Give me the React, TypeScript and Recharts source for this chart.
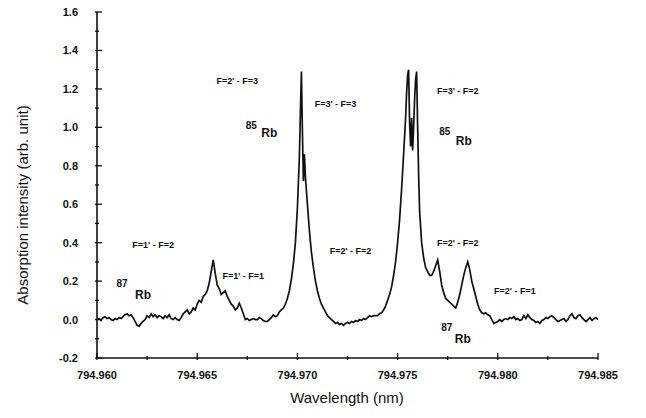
import { LineChart, Line, XAxis, YAxis, ReferenceDot } from 'recharts';

// absorption spectrum: [wavelength (nm), intensity (arb. unit)]
const spectrum: [number, number][] = [
  [794.96, 0.0], [794.9601, 0.005], [794.9602, -0.005], [794.9603, 0.01], [794.9604, 0.015],
  [794.9605, 0.005], [794.9606, 0.01], [794.9607, 0.0], [794.9608, -0.005], [794.9609, 0.005],
  [794.961, 0.0], [794.9611, 0.01], [794.9612, 0.005], [794.9613, 0.015], [794.9614, 0.025],
  [794.9615, 0.03], [794.9616, 0.02], [794.9617, 0.025], [794.9618, 0.01], [794.9619, -0.01],
  [794.962, -0.03], [794.9621, -0.035], [794.9622, -0.02], [794.9623, -0.01], [794.9624, 0.0],
  [794.9625, 0.02], [794.9626, 0.01], [794.9627, 0.03], [794.9628, 0.015], [794.9629, 0.025],
  [794.963, 0.01], [794.9631, 0.02], [794.9632, 0.015], [794.9633, 0.005], [794.9634, 0.02],
  [794.9635, 0.01], [794.9636, 0.025], [794.9637, 0.005], [794.9638, 0.0], [794.9639, 0.01],
  [794.964, 0.0], [794.9641, -0.005], [794.9642, 0.01], [794.9643, 0.03], [794.9644, 0.04],
  [794.9645, 0.05], [794.9646, 0.03], [794.9647, 0.04], [794.9648, 0.06], [794.9649, 0.05],
  [794.965, 0.08], [794.9651, 0.1], [794.9652, 0.09], [794.9653, 0.12], [794.9654, 0.13],
  [794.9655, 0.15], [794.9656, 0.19], [794.9657, 0.25], [794.9658, 0.31], [794.9659, 0.24],
  [794.966, 0.18], [794.9661, 0.16], [794.9662, 0.13], [794.9663, 0.14], [794.9664, 0.15],
  [794.9665, 0.12], [794.9666, 0.1], [794.9667, 0.08], [794.9668, 0.07], [794.9669, 0.05],
  [794.967, 0.06], [794.9671, 0.085], [794.9672, 0.06], [794.9673, 0.03], [794.9674, 0.0],
  [794.9675, 0.005], [794.9676, -0.005], [794.9677, 0.0], [794.9678, 0.005], [794.9679, 0.0],
  [794.968, 0.0], [794.9681, 0.01], [794.9682, 0.005], [794.9683, -0.005], [794.9684, -0.01],
  [794.9685, -0.01], [794.9686, 0.0], [794.9687, 0.01], [794.9688, 0.025], [794.9689, 0.015],
  [794.969, 0.02], [794.9691, 0.04], [794.9692, 0.05], [794.9693, 0.06], [794.9694, 0.08],
  [794.9695, 0.11], [794.9696, 0.15], [794.9697, 0.21], [794.9698, 0.29], [794.9699, 0.4],
  [794.97, 0.58], [794.9701, 0.85], [794.97015, 1.08], [794.9702, 1.29], [794.97025, 0.98],
  [794.9703, 0.72], [794.97035, 0.86], [794.9704, 0.74], [794.9705, 0.6], [794.9706, 0.46],
  [794.9707, 0.35], [794.9708, 0.27], [794.9709, 0.2], [794.971, 0.15], [794.9711, 0.11],
  [794.9712, 0.08], [794.9713, 0.06], [794.9714, 0.04], [794.9715, 0.02], [794.9716, 0.01],
  [794.9717, 0.0], [794.9718, -0.01], [794.9719, -0.02], [794.972, -0.015], [794.9721, -0.025],
  [794.9722, -0.02], [794.9723, -0.03], [794.9724, -0.02], [794.9725, -0.015], [794.9726, -0.02],
  [794.9727, -0.01], [794.9728, -0.015], [794.9729, -0.005], [794.973, -0.01], [794.9731, 0.0],
  [794.9732, -0.005], [794.9733, 0.005], [794.9734, 0.0], [794.9735, 0.01], [794.9736, 0.02],
  [794.9737, 0.015], [794.9738, 0.02], [794.9739, 0.02], [794.974, 0.02], [794.9741, 0.03],
  [794.9742, 0.035], [794.9743, 0.05], [794.9744, 0.07], [794.9745, 0.1], [794.9746, 0.13],
  [794.9747, 0.17], [794.9748, 0.23], [794.9749, 0.3], [794.975, 0.4], [794.9751, 0.52],
  [794.9752, 0.68], [794.9753, 0.86], [794.9754, 1.05], [794.97545, 1.18], [794.9755, 1.27],
  [794.97555, 1.3], [794.9756, 1.02], [794.97565, 0.9], [794.9757, 1.05], [794.97575, 0.88],
  [794.9758, 1.0], [794.97585, 1.15], [794.9759, 1.25], [794.97595, 1.29], [794.976, 1.0],
  [794.97605, 0.75], [794.9761, 0.56], [794.9762, 0.4], [794.9763, 0.32], [794.9764, 0.27],
  [794.9765, 0.25], [794.9766, 0.23], [794.9767, 0.23], [794.9768, 0.25], [794.9769, 0.28],
  [794.977, 0.31], [794.9771, 0.25], [794.9772, 0.18], [794.9773, 0.14], [794.9774, 0.11],
  [794.9775, 0.1], [794.9776, 0.09], [794.9777, 0.08], [794.9778, 0.07], [794.9779, 0.06],
  [794.978, 0.09], [794.9781, 0.13], [794.9782, 0.18], [794.9783, 0.23], [794.9784, 0.27],
  [794.9785, 0.3], [794.9786, 0.26], [794.9787, 0.2], [794.9788, 0.16], [794.9789, 0.12],
  [794.979, 0.08], [794.9791, 0.05], [794.9792, 0.035], [794.9793, 0.03], [794.9794, 0.035],
  [794.9795, 0.025], [794.9796, 0.02], [794.9797, 0.0], [794.9798, -0.02], [794.9799, -0.015],
  [794.98, -0.01], [794.9801, 0.0], [794.9802, -0.01], [794.9803, 0.0], [794.9804, 0.005],
  [794.9805, 0.0], [794.9806, 0.01], [794.9807, 0.005], [794.9808, 0.015], [794.9809, 0.0],
  [794.981, 0.005], [794.9811, -0.005], [794.9812, 0.0], [794.9813, 0.02], [794.9814, 0.005],
  [794.9815, 0.025], [794.9816, 0.01], [794.9817, 0.0], [794.9818, -0.005], [794.9819, -0.015],
  [794.982, -0.01], [794.9821, -0.02], [794.9822, -0.005], [794.9823, 0.0], [794.9824, 0.01],
  [794.9825, 0.005], [794.9826, 0.015], [794.9827, 0.02], [794.9828, 0.01], [794.9829, 0.0],
  [794.983, -0.01], [794.9831, -0.005], [794.9832, 0.0], [794.9833, 0.005], [794.9834, -0.01],
  [794.9835, 0.0], [794.9836, 0.02], [794.9837, 0.03], [794.9838, 0.01], [794.9839, 0.005],
  [794.984, 0.02], [794.9841, 0.025], [794.9842, 0.01], [794.9843, 0.0], [794.9844, -0.01],
  [794.9845, 0.0], [794.9846, 0.01], [794.9847, -0.005], [794.9848, 0.005], [794.9849, 0.01],
  [794.985, 0.0],
];

const xTicks = [794.96, 794.9625, 794.965, 794.9675, 794.97, 794.9725, 794.975, 794.9775, 794.98, 794.9825, 794.985];
const xTickLabels = ['794.960', '', '794.965', '', '794.970', '', '794.975', '', '794.980', '', '794.985'];
const yTicks = [-0.2, -0.1, 0, 0.1, 0.2, 0.3, 0.4, 0.5, 0.6, 0.7, 0.8, 0.9, 1.0, 1.1, 1.2, 1.3, 1.4, 1.5, 1.6];
const yTickLabels = ['-0.2', '', '0.0', '', '0.2', '', '0.4', '', '0.6', '', '0.8', '', '1.0', '', '1.2', '', '1.4', '', '1.6'];

// transition / isotope labels, anchored in data space
const annotations = [
  { text: "F=1' - F=2", wl: 794.9628, v: 0.39, kind: 'line' },
  { text: '87', wl: 794.96125, v: 0.19, kind: 'iso' },
  { text: 'Rb', wl: 794.9623, v: 0.13, kind: 'elem' },
  { text: "F=1' - F=1", wl: 794.9673, v: 0.23, kind: 'line' },
  { text: "F=2' - F=3", wl: 794.967, v: 1.24, kind: 'line' },
  { text: '85', wl: 794.9677, v: 1.01, kind: 'iso' },
  { text: 'Rb', wl: 794.9686, v: 0.97, kind: 'elem' },
  { text: "F=3' - F=3", wl: 794.9719, v: 1.12, kind: 'line' },
  { text: "F=2' - F=2", wl: 794.97265, v: 0.36, kind: 'line' },
  { text: "F=3' - F=2", wl: 794.978, v: 1.19, kind: 'line' },
  { text: '85', wl: 794.97735, v: 0.98, kind: 'iso' },
  { text: 'Rb', wl: 794.9783, v: 0.93, kind: 'elem' },
  { text: "F=2' - F=2", wl: 794.978, v: 0.4, kind: 'line' },
  { text: "F=2' - F=1", wl: 794.98085, v: 0.15, kind: 'line' },
  { text: '87', wl: 794.97745, v: -0.04, kind: 'iso' },
  { text: 'Rb', wl: 794.97825, v: -0.1, kind: 'elem' },
];

const fontSizeFor: Record<string, number> = { line: 9, iso: 10, elem: 12 };

const chartData = spectrum.map(([wl, v]) => ({ wl, v }));

const FONT = '"Liberation Sans", Arial, sans-serif';
const INK = '#111';

// ticks point inward, as in the original Origin-style frame
function BottomTick({ x, y, index }: any) {
  const major = index % 2 === 0;
  return (
    <g>
      <line x1={x} x2={x} y1={y} y2={y - (major ? 7 : 4)} stroke={INK} strokeWidth={1.3} />
      {major && (
        <text x={x} y={y + 19} textAnchor="middle" fontSize={11} fontWeight={700} fill={INK} fontFamily={FONT}>
          {xTickLabels[index]}
        </text>
      )}
    </g>
  );
}

function TopTick({ x, y, index }: any) {
  const major = index % 2 === 0;
  return <line x1={x} x2={x} y1={y} y2={y + (major ? 7 : 4)} stroke={INK} strokeWidth={1.3} />;
}

function LeftTick({ x, y, index }: any) {
  const major = index % 2 === 0;
  return (
    <g>
      <line x1={x} x2={x + (major ? 7 : 4)} y1={y} y2={y} stroke={INK} strokeWidth={1.3} />
      {major && (
        <text x={x - 17} y={y + 4} textAnchor="end" fontSize={11} fontWeight={700} fill={INK} fontFamily={FONT}>
          {yTickLabels[index]}
        </text>
      )}
    </g>
  );
}

function RightTick({ x, y, index }: any) {
  const major = index % 2 === 0;
  return <line x1={x} x2={x - (major ? 7 : 4)} y1={y} y2={y} stroke={INK} strokeWidth={1.3} />;
}

export default function App() {
  return (
    <div style={{ position: 'absolute', left: 0, top: 0, width: 646, height: 418, background: '#fff', fontFamily: FONT }}>
      <LineChart width={646} height={418} data={chartData} margin={{ top: 12, right: 48, bottom: 0, left: 0 }}>
        <XAxis
          dataKey="wl"
          type="number"
          domain={[794.96, 794.985]}
          ticks={xTicks}
          interval={0}
          tickSize={0}
          tickLine={false}
          tick={(p: any) => <BottomTick {...p} />}
          axisLine={{ stroke: INK, strokeWidth: 1.6 }}
          height={60}
          allowDataOverflow
        />
        <XAxis
          xAxisId="top"
          orientation="top"
          dataKey="wl"
          type="number"
          domain={[794.96, 794.985]}
          ticks={xTicks}
          interval={0}
          tickSize={0}
          tickLine={false}
          tick={(p: any) => <TopTick {...p} />}
          axisLine={{ stroke: INK, strokeWidth: 1.6 }}
          height={0}
          allowDataOverflow
        />
        <YAxis
          type="number"
          domain={[-0.2, 1.6]}
          ticks={yTicks}
          interval={0}
          tickSize={0}
          tickLine={false}
          tick={(p: any) => <LeftTick {...p} />}
          axisLine={{ stroke: INK, strokeWidth: 1.6 }}
          width={97}
          allowDataOverflow
        />
        <YAxis
          yAxisId="right"
          orientation="right"
          type="number"
          domain={[-0.2, 1.6]}
          ticks={yTicks}
          interval={0}
          tickSize={0}
          tickLine={false}
          tick={(p: any) => <RightTick {...p} />}
          axisLine={{ stroke: INK, strokeWidth: 1.6 }}
          width={0}
          allowDataOverflow
        />
        <Line
          type="linear"
          dataKey="v"
          stroke={INK}
          strokeWidth={1.7}
          dot={false}
          isAnimationActive={false}
        />
        {annotations.map((a, i) => (
          <ReferenceDot
            key={i}
            x={a.wl}
            y={a.v}
            r={0}
            fill="none"
            stroke="none"
            label={{
              value: a.text,
              position: 'center',
              fontSize: fontSizeFor[a.kind],
              fontWeight: 700,
              fill: INK,
              fontFamily: FONT,
            }}
          />
        ))}
      </LineChart>
      <div
        style={{
          position: 'absolute',
          left: 347,
          top: 389,
          transform: 'translateX(-50%)',
          whiteSpace: 'nowrap',
          fontSize: 15,
          color: INK,
        }}
      >
        Wavelength (nm)
      </div>
      <div
        style={{
          position: 'absolute',
          left: 22,
          top: 205,
          transform: 'translate(-50%, -50%) rotate(-90deg)',
          whiteSpace: 'nowrap',
          fontSize: 15,
          color: INK,
        }}
      >
        Absorption intensity (arb. unit)
      </div>
    </div>
  );
}
